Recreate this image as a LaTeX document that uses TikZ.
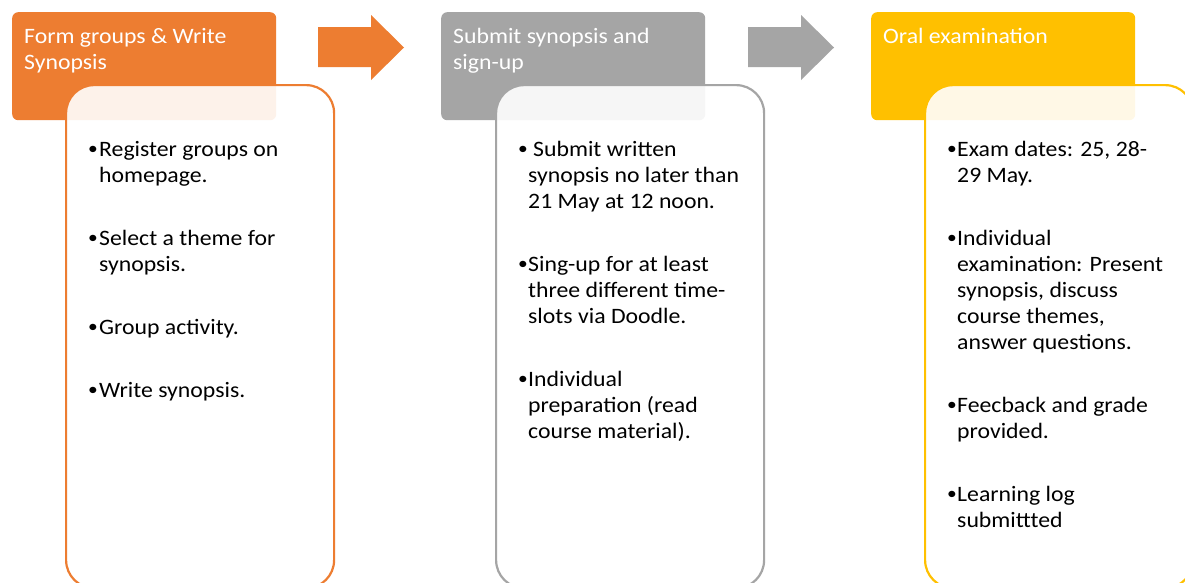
\documentclass[tikz,border=0pt]{standalone}
\usepackage{fontspec}
\setmainfont{Carlito}[FakeStretch=1.08]
\definecolor{cOrange}{HTML}{ED7D31}
\definecolor{cGray}{HTML}{A5A5A5}
\definecolor{cGold}{HTML}{FFC000}
\tikzset{
  hdr/.style={rectangle, rounded corners=6pt, minimum width=264pt, minimum height=108pt, anchor=north west, inner sep=0pt},
  bodybox/.style={rectangle, rounded corners=28pt, minimum width=268pt, minimum height=503pt, anchor=north west, inner sep=0pt, line width=2.2pt, fill=white, fill opacity=0.9, draw opacity=1},
  htxt/.style={anchor=base west, inner sep=0pt, text=white, font=\fontsize{22pt}{26.4pt}\selectfont},
  txt/.style={anchor=base west, inner sep=0pt, text=black, font=\fontsize{22pt}{26.4pt}\selectfont},
  bul/.style={anchor=base west, inner sep=0pt, text=black, yshift=1.6pt, font=\fontsize{18pt}{20pt}\selectfont}
}
\begin{document}
\begin{tikzpicture}[x=1pt, y=-1pt]
\useasboundingbox (0,0) rectangle (1185,582);
\fill[white] (0,0) rectangle (1185,582);
% headers
\node[hdr, fill=cOrange] (h1) at (12,12) {};
\node[hdr, fill=cGray] (h2) at (441,12) {};
\node[hdr, fill=cGold] (h3) at (871,12) {};
% body boxes
\node[bodybox, draw=cOrange] (b1) at (65,84) {};
\node[bodybox, draw=cGray] (b2) at (495,84) {};
\node[bodybox, draw=cGold] (b3) at (924,84) {};
% block arrows
\fill[cOrange] (318,27) -- (371,27) -- (371,15) -- (404,47.5) -- (371,80) -- (371,67) -- (318,67) -- cycle;
\fill[cGray] (748,27) -- (801,27) -- (801,15) -- (834,47.5) -- (801,80) -- (801,67) -- (748,67) -- cycle;
% header texts
\node[htxt] (h1a) at (24,43.5) {Form groups \& Write};
\node[htxt] (h1b) at (24,69.5) {Synopsis};
\node[htxt] (h2a) at (453,43.5) {Submit synopsis and};
\node[htxt] (h2b) at (453,69.5) {sign-up};
\node[htxt] (h3a) at (883,43.5) {Oral examination};
% column 1
\foreach \y/\n in {156/1,245/2,334/3,397/4} {\node[bul] (p1-\n) at (88,\y) {•};}
\foreach \l [count=\i] in {Register groups on, homepage.} {\node[txt] (t1a-\i) at (99,{156+26*(\i-1)}) {\l};}
\foreach \l [count=\i] in {Select a theme for, synopsis.} {\node[txt] (t1b-\i) at (99,{245+26*(\i-1)}) {\l};}
\node[txt] (t1c-1) at (99,334) {Group activity.};
\node[txt] (t1d-1) at (99,397) {Write synopsis.};
% column 2
\foreach \y/\n in {156/1,271/2,386/3} {\node[bul] (p2-\n) at (518,\y) {•};}
\node[txt] (t2a-1) at (533,156) {Submit written};
\node[txt] (t2a-2) at (528,182) {synopsis no later than};
\node[txt] (t2a-3) at (528,208) {21 May at 12 noon.};
\foreach \l [count=\i] in {Sing-up for at least, three different time-, slots via Doodle.} {\node[txt] (t2b-\i) at (528,{271+26*(\i-1)}) {\l};}
\foreach \l [count=\i] in {Individual, preparation (read, course material).} {\node[txt] (t2c-\i) at (528,{386+26*(\i-1)}) {\l};}
% column 3
\foreach \y/\n in {156/1,245/2,412/3,501/4} {\node[bul] (p3-\n) at (947,\y) {•};}
\foreach \l [count=\i] in {{Exam dates: 25, 28-}, 29 May.} {\node[txt] (t3a-\i) at (957,{156+26*(\i-1)}) {\l};}
\foreach \l [count=\i] in {Individual, examination: Present, {synopsis, discuss}, {course themes,}, answer questions.} {\node[txt] (t3b-\i) at (957,{245+26*(\i-1)}) {\l};}
\foreach \l [count=\i] in {Feecback and grade, provided.} {\node[txt] (t3c-\i) at (957,{412+26*(\i-1)}) {\l};}
\foreach \l [count=\i] in {Learning log, submittted} {\node[txt] (t3d-\i) at (957,{501+26*(\i-1)}) {\l};}
\end{tikzpicture}
\end{document}
